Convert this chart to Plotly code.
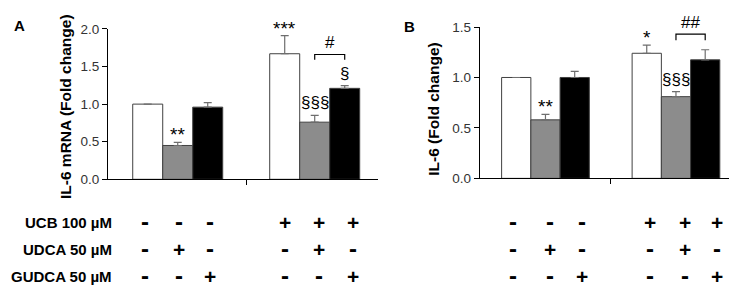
import plotly.graph_objects as go

W, H = 737, 289
FONT = "Liberation Sans, Arial, sans-serif"

# ---------------- data ----------------
groups = [0, 1]  # 0: no UCB, 1: UCB 100 µM
series_names = ["Control / UCB", "UDCA 50 µM", "GUDCA 50 µM"]
series_colors = ["#ffffff", "#8c8c8c", "#000000"]

# Panel A: IL-6 mRNA (fold change)
a_white = [1.00, 1.67]
a_white_err = [None, 0.24]
a_gray = [0.45, 0.76]
a_gray_err = [0.04, 0.09]
a_black = [0.96, 1.21]
a_black_err = [0.06, 0.035]

# Panel B: IL-6 protein (fold change)
b_white = [1.00, 1.24]
b_white_err = [None, 0.08]
b_gray = [0.58, 0.81]
b_gray_err = [0.055, 0.05]
b_black = [1.00, 1.175]
b_black_err = [0.06, 0.10]

# significance labels: (group, series index, text)
a_sig = [(0, 1, "**"), (1, 0, "***"), (1, 1, "§§§"), (1, 2, "§")]
b_sig = [(0, 1, "**"), (1, 0, "*"), (1, 1, "§§§")]
a_bracket = "#"
b_bracket = "##"

a_yticks = [0.0, 0.5, 1.0, 1.5, 2.0]
b_yticks = [0.0, 0.5, 1.0, 1.5]

row_labels = ["UCB 100 µM", "UDCA 50 µM", "GUDCA 50 µM"]
# treatment table: rows x columns (6 bars)
treat = [
    ["-", "-", "-", "+", "+", "+"],
    ["-", "+", "-", "-", "+", "-"],
    ["-", "-", "+", "-", "-", "+"],
]

# ---------------- layout helpers ----------------
def px_x(p):
    return p / W

def px_y(p):
    return 1 - p / H

fig = go.Figure()

panels = [
    dict(xa="x", ya="y", vals=[a_white, a_gray, a_black],
         errs=[a_white_err, a_gray_err, a_black_err], bw=0.219),
    dict(xa="x2", ya="y2", vals=[b_white, b_gray, b_black],
         errs=[b_white_err, b_gray_err, b_black_err], bw=0.224),
]

for p in panels:
    for i in range(3):
        fig.add_trace(go.Bar(
            x=groups, y=p["vals"][i], xaxis=p["xa"], yaxis=p["ya"],
            width=p["bw"], offset=(i - 1.5) * p["bw"],
            marker=dict(color=series_colors[i], line=dict(color="#404040", width=1)),
            error_y=dict(type="data", array=p["errs"][i], arrayminus=[0, 0],
                         symmetric=False, color="#6e6e6e", thickness=1.2, width=4),
            name=series_names[i], showlegend=False,
        ))

axis_common = dict(showline=True, linecolor="#000000", linewidth=1, showgrid=False,
                   zeroline=False, ticks="outside", tickcolor="#000000", ticklen=5,
                   fixedrange=True)

fig.update_layout(
    width=W, height=H, margin=dict(l=0, r=0, t=0, b=0),
    paper_bgcolor="white", plot_bgcolor="white",
    barmode="overlay",
    font=dict(family=FONT, color="#000000"),
    xaxis=dict(axis_common, domain=[px_x(100), px_x(370)], range=[-0.509, 1.462],
               tickvals=[0.5], showticklabels=False, anchor="y"),
    yaxis=dict(axis_common, domain=[px_y(173.3), px_y(14.7)], range=[0, 2.0],
               tickvals=a_yticks, ticktext=[f"{v:.1f}" for v in a_yticks],
               tickfont=dict(size=13.5, color="#333333"), anchor="x"),
    xaxis2=dict(axis_common, domain=[px_x(471.7), px_x(732.7)], range=[-0.504, 1.496],
                tickvals=[0.5], showticklabels=False, anchor="y2"),
    yaxis2=dict(axis_common, domain=[px_y(172.3), px_y(12.7)], range=[0, 1.5],
                tickvals=b_yticks, ticktext=[f"{v:.1f}" for v in b_yticks],
                tickfont=dict(size=13.5, color="#333333"), anchor="x2"),
)

ann = []
# panel letters
ann.append(dict(text="<b>A</b>", x=px_x(4), y=px_y(0), xref="paper", yref="paper",
                xanchor="left", yanchor="top", showarrow=False, font=dict(size=15)))
ann.append(dict(text="<b>B</b>", x=px_x(394), y=px_y(1), xref="paper", yref="paper",
                xanchor="left", yanchor="top", showarrow=False, font=dict(size=15)))
# axis titles
ann.append(dict(text="<b>IL-6 mRNA (Fold change)</b>", x=px_x(57), y=px_y(96),
                xref="paper", yref="paper", xanchor="center", yanchor="middle",
                textangle=-90, showarrow=False, font=dict(size=15.5)))
ann.append(dict(text="<b>IL-6 (Fold change)</b>", x=px_x(426), y=px_y(100),
                xref="paper", yref="paper", xanchor="center", yanchor="middle",
                textangle=-90, showarrow=False, font=dict(size=15.5)))

# significance labels
for p, sig in zip(panels, [a_sig, b_sig]):
    for g, s, t in sig:
        v = p["vals"][s][g]
        e = p["errs"][s][g] or 0
        star = t.startswith("*")
        ann.append(dict(text=t, x=g + (s - 1) * p["bw"], y=v + e,
                        xref=p["xa"], yref=p["ya"], xanchor="center", yanchor="bottom",
                        yshift=-5 if star else 1, showarrow=False,
                        font=dict(size=19 if star else 17)))

# bracket geometry in data units
a_br = (1.66, 1.59)
b_br = (1.43, 1.37)
shapes = []
for p, (yt, yl), lab in zip(panels, [a_br, b_br], [a_bracket, b_bracket]):
    x0 = 1
    x1 = 1 + p["bw"]
    shapes.append(dict(type="path", xref=p["xa"], yref=p["ya"],
                       path=f"M {x0},{yl} L {x0},{yt} L {x1},{yt} L {x1},{yl}",
                       line=dict(color="#000000", width=1.2)))
    ann.append(dict(text=lab, x=(x0 + x1) / 2, y=yt, xref=p["xa"], yref=p["ya"],
                    xanchor="center", yanchor="bottom", yshift=0, showarrow=False,
                    font=dict(size=17)))

# treatment table
row_y = [219, 247, 276]
for r, lab in enumerate(row_labels):
    ann.append(dict(text=f"<b>{lab}</b>", x=px_x(106), y=px_y(row_y[r]),
                    xref="paper", yref="paper", xanchor="right", yanchor="middle",
                    showarrow=False, font=dict(size=15)))
a_cols = [-0.241, 0.009, 0.234, 0.782, 1.033, 1.276]
b_cols = [-0.249, 0.032, 0.279, 0.799, 1.067, 1.314]
for xa, cols in [("x", a_cols), ("x2", b_cols)]:
    for r in range(3):
        for c in range(6):
            plus = treat[r][c] == "+"
            ann.append(dict(text=f"<b>{treat[r][c]}</b>", x=cols[c], y=px_y(row_y[r]),
                            xref=xa, yref="paper", xanchor="center", yanchor="middle",
                            yshift=0 if plus else 1, showarrow=False,
                            font=dict(size=21 if plus else 24)))

fig.update_layout(annotations=ann, shapes=shapes)
fig.write_html("out.html")
